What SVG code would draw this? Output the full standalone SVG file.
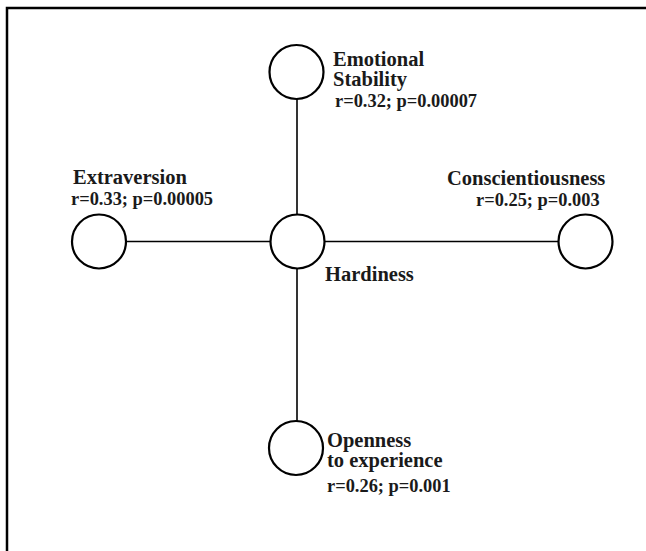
<svg xmlns="http://www.w3.org/2000/svg" width="646" height="551" viewBox="0 0 646 551">
<style>
.n{fill:#fff;stroke:#000;stroke-width:2.2}
.c{stroke:#000;stroke-width:1.6;fill:none}
.t{font-family:"Liberation Serif","Times New Roman",serif;font-weight:bold;font-size:20.5px;fill:#1a1a1a}
.s{font-family:"Liberation Serif","Times New Roman",serif;font-weight:bold;font-size:18.4px;fill:#1a1a1a}
</style>
<rect width="646" height="551" fill="#fff"/>
<path d="M7,551 V8 H646" fill="none" stroke="#000" stroke-width="2.5"/>
<g id="connectors">
<line class="c" x1="297" y1="99" x2="297" y2="215"/>
<line class="c" x1="297" y1="268" x2="297" y2="421"/>
<line class="c" x1="126" y1="241.5" x2="270" y2="241.5"/>
<line class="c" x1="325" y1="241.5" x2="558" y2="241.5"/>
</g>
<g id="hardiness">
<circle class="n" cx="297.5" cy="241.5" r="27"/>
<text class="t" x="325" y="281">Hardiness</text>
</g>
<g id="emotional-stability">
<circle class="n" cx="296.5" cy="72" r="27"/>
<text class="t" x="333" y="66">Emotional</text>
<text class="t" x="333" y="86">Stability</text>
<text class="s" x="335" y="107">r=0.32; p=0.00007</text>
</g>
<g id="extraversion">
<circle class="n" cx="99" cy="241.5" r="27"/>
<text class="t" x="73" y="184">Extraversion</text>
<text class="s" x="71" y="205">r=0.33; p=0.00005</text>
</g>
<g id="conscientiousness">
<circle class="n" cx="585.5" cy="241.5" r="27"/>
<text class="t" x="447" y="185">Conscientiousness</text>
<text class="s" x="476" y="206">r=0.25; p=0.003</text>
</g>
<g id="openness">
<circle class="n" cx="296" cy="448" r="27"/>
<text class="t" x="327" y="447">Openness</text>
<text class="t" x="327" y="467">to experience</text>
<text class="s" x="327" y="492">r=0.26; p=0.001</text>
</g>
</svg>
